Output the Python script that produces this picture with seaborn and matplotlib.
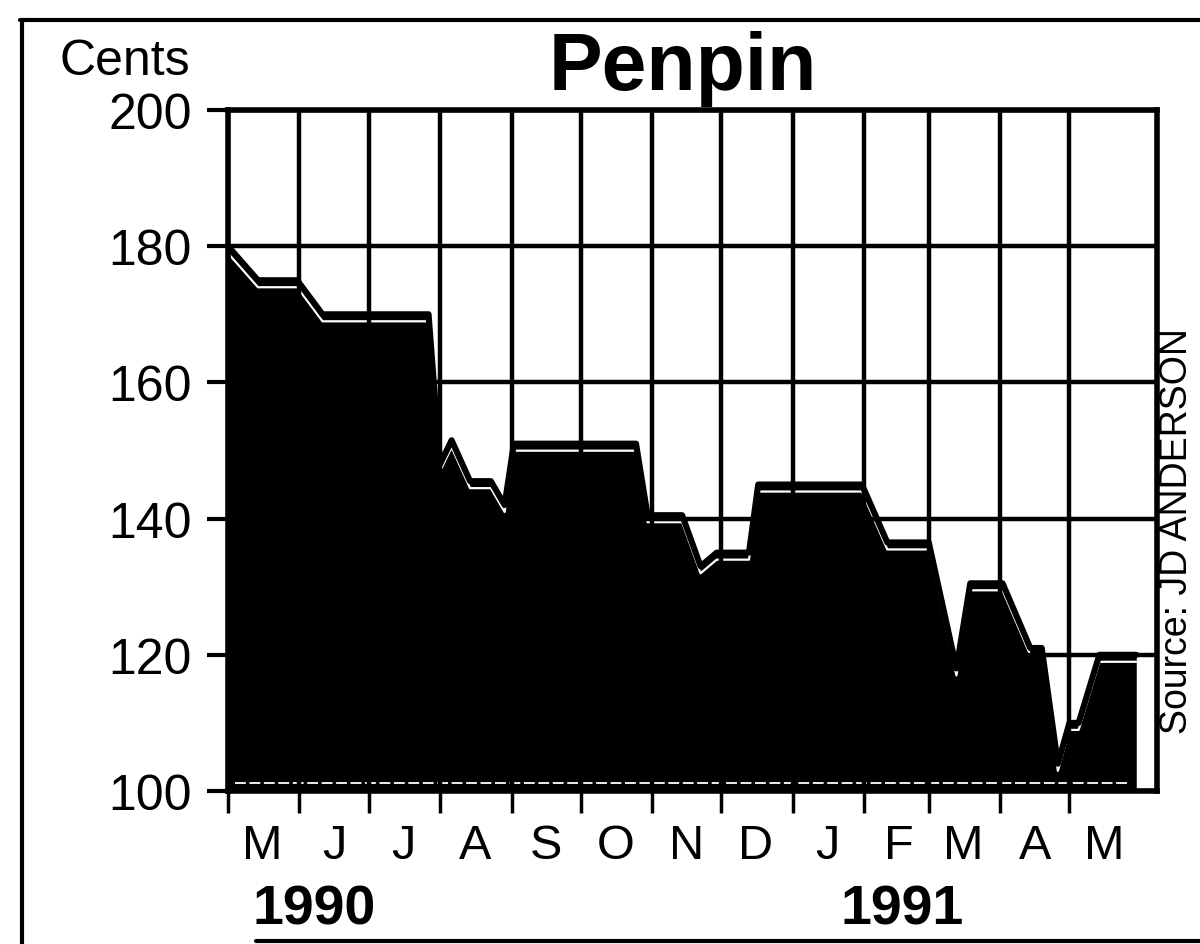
import matplotlib
matplotlib.use("Agg")
import matplotlib.pyplot as plt
import matplotlib.dates as mdates
from matplotlib.ticker import FixedLocator, FixedFormatter, NullFormatter
from matplotlib.transforms import offset_copy
from matplotlib.lines import Line2D
import pandas as pd
import seaborn as sns

# Weekly Penpin price, cents
dates = ["1990-05-01", "1990-05-14", "1990-05-31", "1990-06-11", "1990-07-27",
         "1990-08-01", "1990-08-06", "1990-08-14", "1990-08-23", "1990-08-29",
         "1990-09-02", "1990-10-25", "1990-10-30", "1990-11-14", "1990-11-22",
         "1990-11-29", "1990-12-13", "1990-12-17", "1991-01-31", "1991-02-11",
         "1991-03-01", "1991-03-13", "1991-03-19", "1991-04-02", "1991-04-14",
         "1991-04-19", "1991-04-26", "1991-05-01", "1991-05-05", "1991-05-14",
         "1991-05-30"]
cents = [180, 175, 175, 170, 170,
         148, 151.5, 145.5, 145.5, 142,
         151, 151, 140.5, 140.5, 133,
         135, 135, 145, 145, 136.5,
         136.5, 118, 130.5, 130.5, 121,
         121, 104, 110, 110, 120,
         120]

month_labels = ["M", "J", "J", "A", "S", "O", "N", "D", "J", "F", "M", "A", "M"]
y_ticks = [100, 120, 140, 160, 180, 200]
year_labels = ["1990", "1991"]

sns.set_theme(style="white", rc={"text.color": "black", "axes.labelcolor": "black",
                                 "xtick.color": "black", "ytick.color": "black",
                                 "axes.edgecolor": "black"})
plt.rcParams["font.family"] = ["Liberation Sans", "DejaVu Sans"]

df = pd.DataFrame({"date": pd.to_datetime(dates), "cents": cents})

fig = plt.figure(figsize=(12, 9.45), dpi=100)
fig.patch.set_facecolor("white")
ax = fig.add_axes([228 / 1200, 1 - 792 / 945, (1157 - 228) / 1200, (792 - 111) / 945])

# Filled price area with its outline and the thin white inner rim
ax.fill_between(df["date"], df["cents"], 100, color="black", lw=0, zorder=1)
inner = offset_copy(ax.transData, fig=fig, x=0, y=-7, units="dots")
ax.plot(df["date"], df["cents"], color="white", lw=1.6, transform=inner, zorder=2)
rim = offset_copy(ax.transData, fig=fig, x=0, y=8, units="dots")
ax.plot([df["date"].iloc[0] + pd.Timedelta(days=3), df["date"].iloc[-1] - pd.Timedelta(days=3)],
        [100, 100], color="white", lw=1.3, ls=(0, (6, 2)), transform=rim, zorder=2)
sns.lineplot(data=df, x="date", y="cents", color="black", linewidth=4.4, ax=ax, zorder=3)

ax.set_xlim(pd.Timestamp("1990-05-01"), pd.Timestamp("1991-06-08"))
ax.set_ylim(100, 200)

month_starts = pd.date_range("1990-05-01", "1991-05-01", freq="MS")
mid_months = month_starts + pd.Timedelta(days=15)
ax.xaxis.set_major_locator(FixedLocator(mdates.date2num(month_starts)))
ax.xaxis.set_major_formatter(NullFormatter())
ax.xaxis.set_minor_locator(FixedLocator(mdates.date2num(mid_months)))
ax.xaxis.set_minor_formatter(FixedFormatter(month_labels))
ax.set_yticks(y_ticks)
ax.set_yticklabels([str(v) for v in y_ticks])

ax.tick_params(axis="x", which="major", direction="out", length=16, width=2.5,
               bottom=True, top=False)
ax.tick_params(axis="x", which="minor", length=0, pad=23, labelsize=35)
ax.tick_params(axis="y", which="major", direction="out", length=15, width=3,
               pad=11, labelsize=36, left=True, right=False)

ax.grid(True, which="major", color="black", lw=3.2)
ax.set_axisbelow(False)
for s in ax.spines.values():
    s.set_visible(True)
    s.set_color("black")
    s.set_linewidth(4)
ax.set_xlabel("")
ax.set_ylabel("")

fig.text(683 / 1200, 1 - 90 / 945, "Penpin", ha="center", va="baseline",
         fontsize=58, fontweight="bold")
fig.text(59 / 1200, 1 - 75 / 945, "Cents", ha="left", va="baseline", fontsize=36)
fig.text(252 / 1200, 1 - 925 / 945, year_labels[0], ha="left", va="baseline",
         fontsize=40, fontweight="bold")
fig.text(841 / 1200, 1 - 925 / 945, year_labels[1], ha="left", va="baseline",
         fontsize=40, fontweight="bold")
fig.text(1159 / 1200, 1 - 531 / 945, "Source: JD ANDERSON", rotation=90,
         ha="left", va="center", fontsize=27)

# Outer box of the graphic
fig.add_artist(Line2D([20 / 1200, 1], [1 - 21 / 945, 1 - 21 / 945], color="black", lw=3))
fig.add_artist(Line2D([22 / 1200, 22 / 1200], [0, 1 - 21 / 945], color="black", lw=3))
fig.add_artist(Line2D([256 / 1200, 1], [1 - 942 / 945, 1 - 942 / 945], color="black", lw=3))

fig.savefig("out.png", dpi=100, facecolor="white")
